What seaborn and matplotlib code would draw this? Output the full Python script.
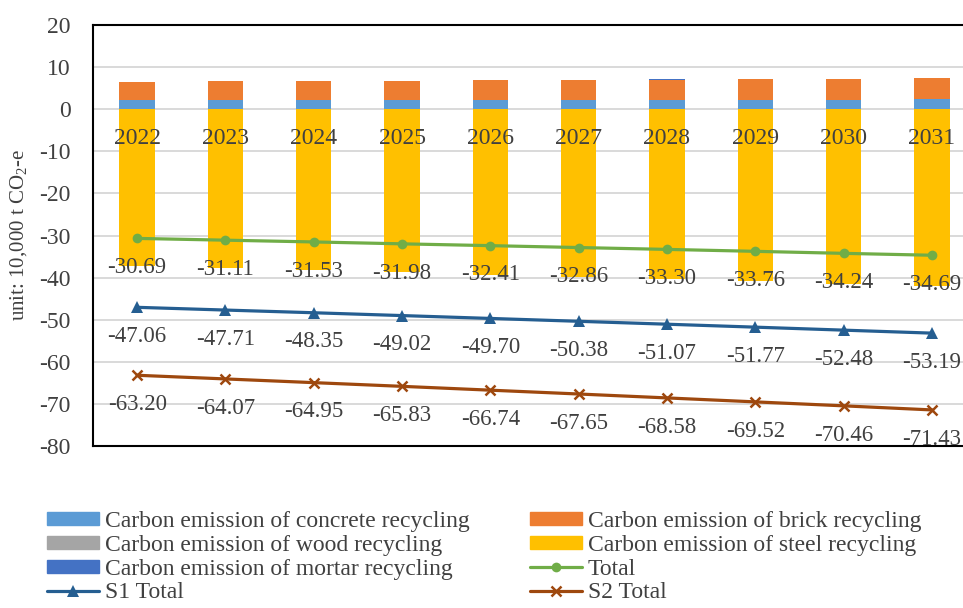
import matplotlib
matplotlib.use("Agg")
import matplotlib.pyplot as plt
import seaborn as sns
import numpy as np
import pandas as pd
from matplotlib.patches import Patch
from matplotlib.lines import Line2D

years = ["2022", "2023", "2024", "2025", "2026", "2027", "2028", "2029", "2030", "2031"]
concrete = [2.10, 2.12, 2.15, 2.17, 2.20, 2.22, 2.25, 2.28, 2.30, 2.33]
brick = [4.40, 4.46, 4.52, 4.58, 4.65, 4.71, 4.78, 4.84, 4.91, 4.98]
wood = [0.02, 0.02, 0.02, 0.02, 0.02, 0.02, 0.02, 0.02, 0.02, 0.02]
mortar = [0.01, 0.01, 0.01, 0.01, 0.01, 0.01, 0.01, 0.01, 0.01, 0.01]
steel = [-37.22, -37.71, -38.22, -38.75, -39.28, -39.81, -40.35, -40.90, -41.47, -42.03]
total = [-30.69, -31.11, -31.53, -31.98, -32.41, -32.86, -33.30, -33.76, -34.24, -34.69]
s1_total = [-47.06, -47.71, -48.35, -49.02, -49.70, -50.38, -51.07, -51.77, -52.48, -53.19]
s2_total = [-63.20, -64.07, -64.95, -65.83, -66.74, -67.65, -68.58, -69.52, -70.46, -71.43]
y_ticks = [20, 10, 0, -10, -20, -30, -40, -50, -60, -70, -80]

sns.set_theme(style="white")
plt.rcParams["font.family"] = ["Liberation Serif", "DejaVu Serif"]
plt.rcParams["mathtext.fontset"] = "custom"
plt.rcParams["mathtext.rm"] = "Liberation Serif"
plt.rcParams["mathtext.it"] = "Liberation Serif:italic"

C_CONCRETE = "#5B9BD5"
C_BRICK = "#ED7D31"
C_WOOD = "#A5A5A5"
C_STEEL = "#FFC000"
C_MORTAR = "#4472C4"
C_TOTAL = "#70AD47"
C_S1 = "#255E91"
C_S2 = "#9E480E"
TXT = "#404040"

fig = plt.figure(figsize=(9.63, 6.08), dpi=100)
ax = fig.add_axes([93 / 963, 1 - 446 / 608, 883 / 963, 421 / 608])

df = pd.DataFrame({
    "year": years, "concrete": concrete, "brick": brick, "wood": wood,
    "mortar": mortar, "steel": steel, "total": total,
    "s1": s1_total, "s2": s2_total,
})
df["x"] = np.arange(len(df))

bw = 0.4
base_brick = df["concrete"]
base_wood = base_brick + df["brick"]
base_mortar = base_wood + df["wood"]

bar_kw = dict(width=bw, linewidth=0, edgecolor="none", zorder=2)
ax.bar(df["x"], df["steel"], color=C_STEEL, **bar_kw)
ax.bar(df["x"], df["concrete"], color=C_CONCRETE, **bar_kw)
ax.bar(df["x"], df["brick"], bottom=base_brick, color=C_BRICK, **bar_kw)
ax.bar(df["x"], df["wood"], bottom=base_wood, color=C_WOOD, **bar_kw)
ax.bar(df["x"], df["mortar"], bottom=base_mortar, color=C_MORTAR, **bar_kw)

line_specs = [
    ("total", C_TOTAL, "o", 7, 0),
    ("s1", C_S1, "^", 8, 0),
    ("s2", C_S2, "x", 7, 1.8),
]
for col, color, marker, ms, mew in line_specs:
    sns.lineplot(data=df, x="x", y=col, ax=ax, color=color, linewidth=2.3,
                 marker=marker, markersize=ms, markeredgewidth=mew if mew else 0,
                 markeredgecolor=color, zorder=4)
    for xi, yi in zip(df["x"], df[col]):
        ax.annotate(f"{yi:.2f}", (xi, yi), xytext=(0, -21), textcoords="offset points",
                    ha="center", va="center", fontsize=16.5, color=TXT, zorder=5)

# category labels sit just under the zero line
for xi, yr in zip(df["x"], df["year"]):
    ax.annotate(yr, (xi, 0), xytext=(0, -21), textcoords="offset points",
                ha="center", va="center", fontsize=17, color=TXT, zorder=5)

ax.set_xlim(-0.5, len(years) - 0.5)
ax.set_ylim(-80, 20)
ax.set_yticks(y_ticks)
ax.set_yticklabels([str(t) for t in y_ticks], fontsize=17, color=TXT)
ax.tick_params(axis="y", length=0, pad=16)
ax.set_xticks([])
ax.set_xlabel("")
ax.set_ylabel(r"unit: 10,000 t CO$_2$-e", fontsize=15, color=TXT)
ax.yaxis.set_label_coords(-64 / 883, 0.5)
ax.grid(axis="y", color="#D9D9D9", linewidth=1.4, zorder=0)
ax.set_axisbelow(True)
for sp in ax.spines.values():
    sp.set_visible(True)
    sp.set_color("black")
    sp.set_linewidth(1.5)

handles = [
    Patch(color=C_CONCRETE, label="Carbon emission of concrete recycling"),
    Patch(color=C_WOOD, label="Carbon emission of wood recycling"),
    Patch(color=C_MORTAR, label="Carbon emission of mortar recycling"),
    Line2D([], [], color=C_S1, lw=2.3, marker="^", ms=8, mew=0, label="S1 Total"),
    Patch(color=C_BRICK, label="Carbon emission of brick recycling"),
    Patch(color=C_STEEL, label="Carbon emission of steel recycling"),
    Line2D([], [], color=C_TOTAL, lw=2.3, marker="o", ms=7, mew=0, label="Total"),
    Line2D([], [], color=C_S2, lw=2.3, marker="x", ms=7, mew=1.8, label="S2 Total"),
]
leg = fig.legend(handles=handles, ncol=2, loc="upper left",
                 bbox_to_anchor=(47 / 963, 1 - 511 / 608), frameon=False,
                 fontsize=17, handlelength=2.2, handleheight=0.5,
                 handletextpad=0.25, columnspacing=2.55, labelspacing=0.12,
                 borderaxespad=0, borderpad=0)
for t in leg.get_texts():
    t.set_color(TXT)

fig.savefig("out.png", dpi=100)
